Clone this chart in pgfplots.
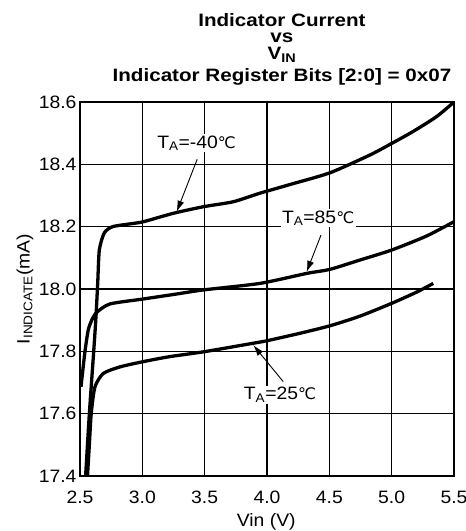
\documentclass[border=0pt]{standalone}
\usepackage{fontspec}
\setmainfont{Liberation Sans}[FakeStretch=1.08]
\newfontfamily\titlefont{Liberation Sans}[FakeStretch=1.15]
\newfontfamily\dejavu{DejaVu Sans}
\newcommand{\degC}{{\dejavu\fontsize{16}{18}\selectfont ℃}}
\usepackage{pgfplots}
\pgfplotsset{compat=1.18}
\usetikzlibrary{arrows.meta}
\begin{document}
\begin{tikzpicture}[font=\fontsize{18}{20}\selectfont]
\begin{axis}[name=ax, width=374bp, height=374bp, scale only axis,
  xmin=2.5, xmax=5.5, ymin=17.4, ymax=18.6,
  xtick={2.5,3.0,3.5,4.0,4.5,5.0,5.5},
  ytick={17.4,17.6,17.8,18.0,18.2,18.4,18.6},
  major tick length=0pt,
  axis line style={line width=2.4bp},
  xticklabel style={/pgf/number format/assume math mode=true, /pgf/number format/fixed, /pgf/number format/fixed zerofill, /pgf/number format/precision=1, anchor=base, yshift=-27bp},
  yticklabel style={/pgf/number format/assume math mode=true, /pgf/number format/fixed, /pgf/number format/fixed zerofill, /pgf/number format/precision=1},
  clip=false,
]
% grid drawn as thin filled bars
\pgfplotsinvokeforeach{3.0,3.5,4.0,4.5,5.0}{
  \fill[black] ([xshift=-0.6bp]axis cs:#1,17.4) rectangle ([xshift=0.6bp]axis cs:#1,18.6);
}
\pgfplotsinvokeforeach{17.6,17.8,18.0,18.2,18.4}{
  \fill[black] ([yshift=-0.6bp]axis cs:2.5,#1) rectangle ([yshift=0.6bp]axis cs:5.5,#1);
}
% TA = -40 C
\addplot[black, line width=3.3bp, smooth, tension=0.4, mark=none] coordinates {(2.545,17.4) (2.575,17.6) (2.61,17.8) (2.628,17.91) (2.642,18.018) (2.655,18.125) (2.695,18.18) (2.762,18.2) (2.92,18.21) (3.01,18.216) (3.25,18.243) (3.49,18.264) (3.73,18.28) (3.94,18.307) (4.2,18.337) (4.506,18.373) (4.826,18.43) (5.0,18.467) (5.17,18.505) (5.36,18.553) (5.5,18.6)};
% TA = 85 C
\addplot[black, line width=3.3bp, smooth, tension=0.4, mark=none] coordinates {(2.508,17.686) (2.54,17.80) (2.567,17.87) (2.6,17.905) (2.634,17.925) (2.74,17.952) (3.008,17.968) (3.276,17.984) (3.489,17.997) (3.944,18.018) (4.318,18.05) (4.505,18.063) (4.746,18.093) (5.0,18.125) (5.28,18.17) (5.5,18.216)};
% TA = 25 C
\addplot[black, line width=3.3bp, smooth, tension=0.4, mark=none] coordinates {(2.56,17.4) (2.575,17.5) (2.59,17.6) (2.62,17.686) (2.687,17.729) (2.82,17.75) (3.008,17.767) (3.22,17.783) (3.5,17.799) (3.89,17.826) (4.0,17.834) (4.265,17.858) (4.505,17.882) (4.746,17.913) (5.0,17.954) (5.2,17.99) (5.334,18.018)};
% annotations
\draw[line width=0.9bp, -{Latex[length=11bp,width=7bp]}] (axis cs:3.44,18.416) -- (axis cs:3.276,18.248);
\node[fill=white, inner sep=1.5bp] at (axis cs:3.435,18.468) {T\textsubscript{A}=-40\degC};
\draw[line width=0.9bp, -{Latex[length=11bp,width=7bp]}] (axis cs:4.433,18.173) -- (axis cs:4.318,18.055);
\node[fill=white, inner sep=1.5bp] at (axis cs:4.41,18.227) {T\textsubscript{A}=85\degC};
\draw[line width=0.9bp, -{Latex[length=11bp,width=7bp]}] (axis cs:4.13,17.703) -- (axis cs:3.89,17.82);
\node[fill=white, inner sep=1.5bp] at (axis cs:4.104,17.66) {T\textsubscript{A}=25\degC};
% titles
\node[anchor=base, font=\titlefont\bfseries\fontsize{18}{20}\selectfont] at (rel axis cs:0.54,1.2032) {Indicator Current};
\node[anchor=base, font=\titlefont\bfseries\fontsize{18}{20}\selectfont] at (rel axis cs:0.54,1.1578) {vs};
\node[anchor=base, font=\titlefont\bfseries\fontsize{18}{20}\selectfont] at (rel axis cs:0.54,1.1123) {V\textsubscript{IN}};
\node[anchor=base, font=\titlefont\bfseries\fontsize{18}{20}\selectfont] at (rel axis cs:0.54,1.0535) {Indicator Register Bits [2:0] = 0x07};
% axis labels
\node[anchor=base] at (rel axis cs:0.498,-0.1356) {Vin (V)};
\node[rotate=90, anchor=center] at ([xshift=-55bp]rel axis cs:0,0.5) {I\textsubscript{INDICATE}(mA)};
\end{axis}
\pgfresetboundingbox
\path ([xshift=-80bp,yshift=-55bp]ax.south west) rectangle ([xshift=12bp,yshift=102bp]ax.north east);
\end{tikzpicture}
\end{document}
